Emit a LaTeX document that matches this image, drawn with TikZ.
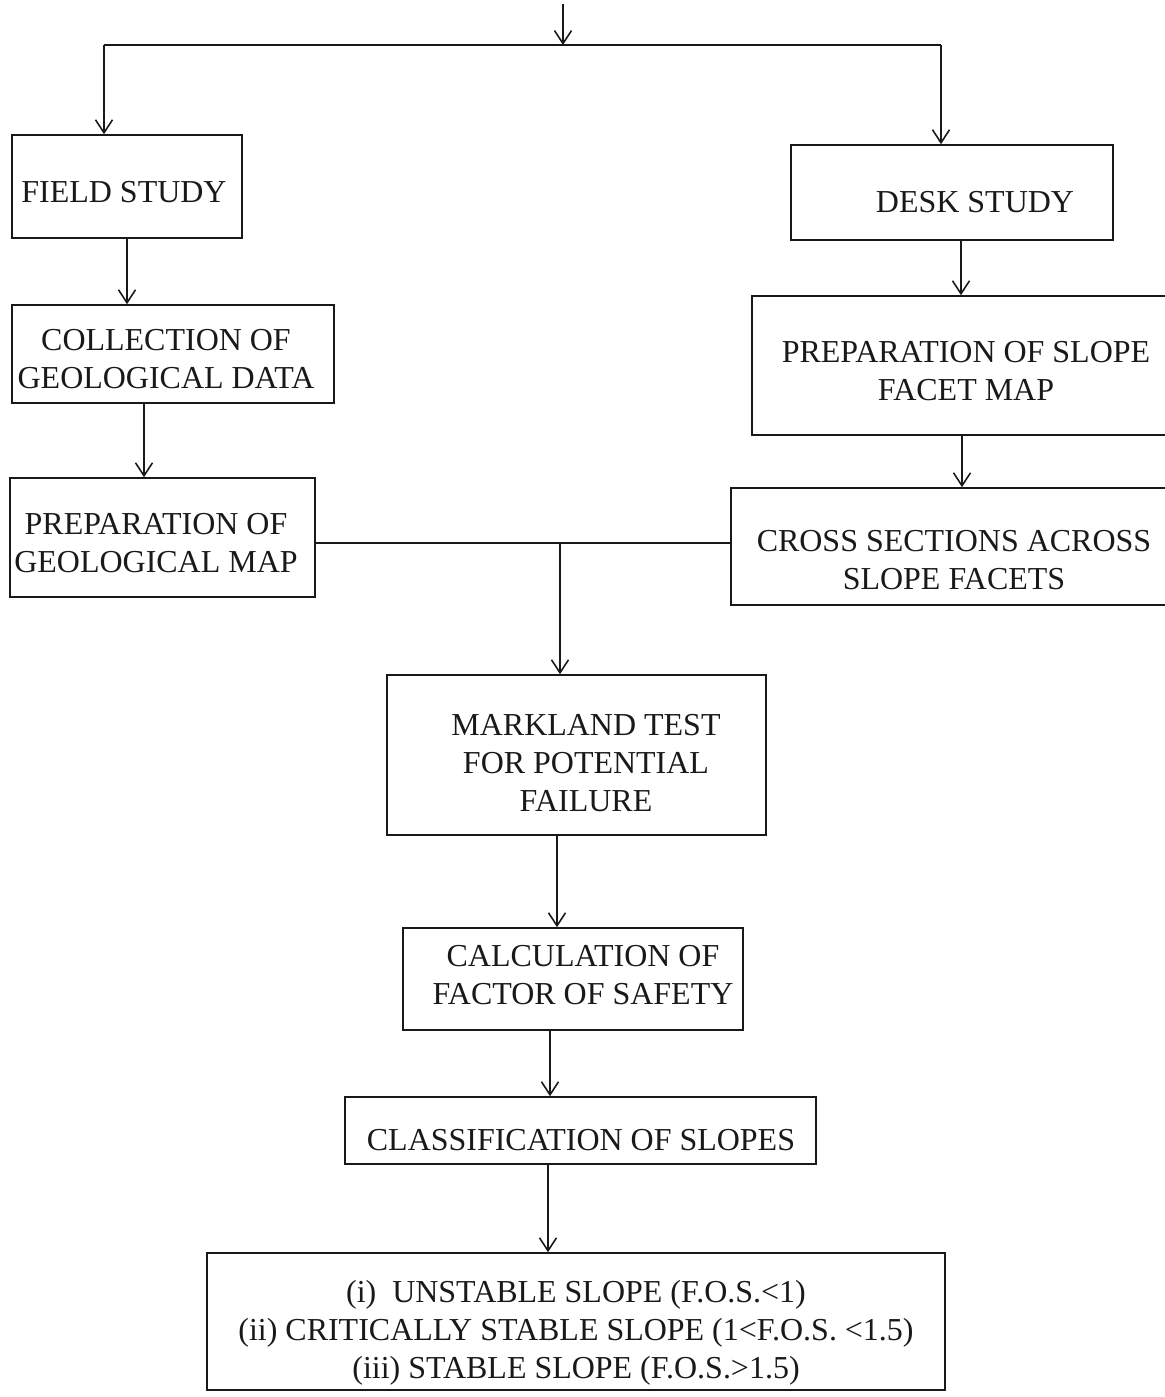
\documentclass[tikz,border=0pt]{standalone}
\usepackage{fontspec}
\setmainfont{Liberation Serif}
\usetikzlibrary{arrows.meta}
\begin{document}
\begin{tikzpicture}[x=0.02cm,y=-0.02cm,
  box/.style={draw=black!90, line width=0.9pt, inner sep=0pt},
  txt/.style={font=\fontsize{18.2}{21.6}\selectfont, align=center, inner sep=0pt, text=black!90},
  arr/.style={draw=black!90, line width=0.9pt, -{Straight Barb[length=2.6mm,width=3.4mm]}},
  ln/.style={draw=black!90, line width=0.9pt}]
\useasboundingbox (0,0) rectangle (1165,1397);

% boxes
\node[box, minimum width=4.60cm, minimum height=2.06cm] (field) at (127,186.5) {};
\node[box, minimum width=6.44cm, minimum height=1.90cm] (desk)  at (952,192.5) {};
\node[box, minimum width=6.44cm, minimum height=1.96cm] (coll)  at (173,354) {};
\node[box, minimum width=6.10cm, minimum height=2.38cm] (geo)   at (162.5,537.5) {};
\node[box, minimum width=8.40cm, minimum height=2.78cm] (slope) at (962,365.5) {};
\node[box, minimum width=8.82cm, minimum height=2.34cm] (cross) at (951.5,546.5) {};
\node[box, minimum width=7.58cm, minimum height=3.20cm] (mark)  at (576.5,755) {};
\node[box, minimum width=6.80cm, minimum height=2.04cm] (calc)  at (573,979) {};
\node[box, minimum width=9.42cm, minimum height=1.34cm] (class) at (580.5,1130.5) {};
\node[box, minimum width=14.76cm, minimum height=2.74cm] (final) at (576,1321.5) {};

% texts
\node[txt] (tfield) at (124,192) {FIELD STUDY};
\node[txt] (tdesk)  at (975,202) {DESK STUDY};
\node[txt] (tcoll)  at (166,359) {COLLECTION OF\\GEOLOGICAL DATA};
\node[txt] (tgeo)   at (156,543) {PREPARATION OF\\GEOLOGICAL MAP};
\node[txt] (tslope) at (966,371) {PREPARATION OF SLOPE\\FACET MAP};
\node[txt] (tcross) at (954,560) {CROSS SECTIONS ACROSS\\SLOPE FACETS};
\node[txt] (tmark)  at (586,763) {MARKLAND TEST\\FOR POTENTIAL\\FAILURE};
\node[txt] (tcalc)  at (583,975) {CALCULATION OF\\FACTOR OF SAFETY};
\node[txt] (tclass) at (581,1140) {CLASSIFICATION OF SLOPES};
\node[txt] (tfinal) at (576,1333) {(i)\ \ UNSTABLE SLOPE (F.O.S.<1)\\(ii) CRITICALLY STABLE SLOPE (1<F.O.S. <1.5)\\(iii) STABLE SLOPE (F.O.S.>1.5)};

% connector helper coordinates
\coordinate (top) at (563,4);
\coordinate (split) at (563,45);
\coordinate (fl) at (104,45);
\coordinate (dr) at (941,45);
\coordinate (x1) at (144,0);
\coordinate (x2) at (961,0);
\coordinate (j) at (560,543);
\coordinate (x3) at (557,0);
\coordinate (x4) at (550,0);
\coordinate (x5) at (548,0);

% connectors
\draw[arr] (top) -- (split);
\draw[ln] (fl) -- (dr);
\draw[arr] (fl) -- (fl |- field.north);
\draw[arr] (dr) -- (dr |- desk.north);
\draw[arr] (field.south) -- (field.south |- coll.north);
\draw[arr] (coll.south -| x1) -- (geo.north -| x1);
\draw[arr] (desk.south -| x2) -- (slope.north -| x2);
\draw[arr] (slope.south) -- (slope.south |- cross.north);
\draw[ln] (geo.east |- j) -- (cross.west |- j);
\draw[arr] (j) -- (j |- mark.north);
\draw[arr] (mark.south -| x3) -- (calc.north -| x3);
\draw[arr] (calc.south -| x4) -- (class.north -| x4);
\draw[arr] (class.south -| x5) -- (final.north -| x5);
\end{tikzpicture}
\end{document}
